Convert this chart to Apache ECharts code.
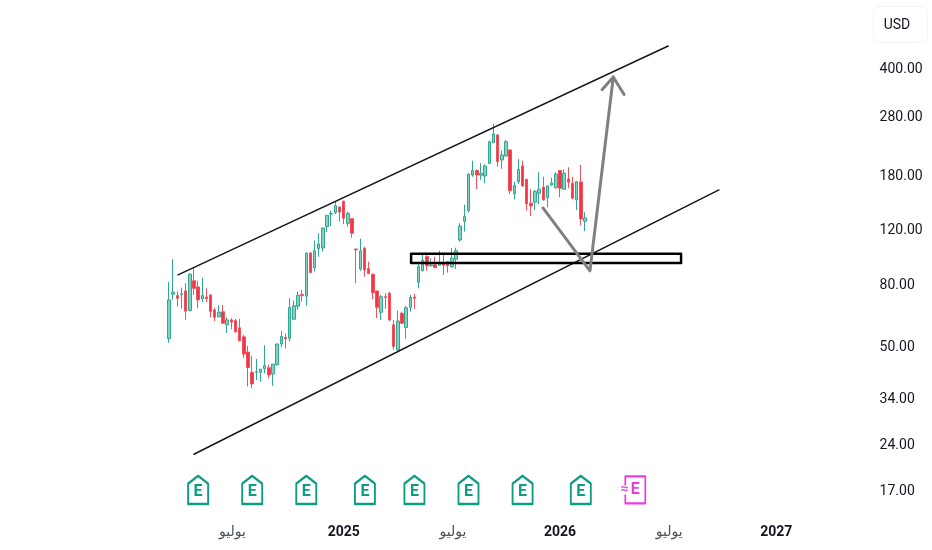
<!DOCTYPE html>
<html><head><meta charset="utf-8">
<style>html,body{margin:0;padding:0;background:#fff}#c{width:932px;height:550px}</style>
<script src="https://cdn.jsdelivr.net/npm/echarts@6/dist/echarts.min.js"></script>
</head><body><div id="c"></div>
<script>
// Weekly candles: [open, close, low, high]
const ohlc = [
[52.8,70.5,51.2,80.6],[73.6,74.7,70.5,95.6],[72.8,71.4,67.1,75],[73.4,73.8,66.2,77.3],[75.4,64.8,60.7,79.9],
[65.1,85.5,64.8,86.1],[81.4,76.9,73.2,89.4],[77.7,70.5,66.2,81.4],[71.1,72.8,69.3,83.3],[72.1,71.1,69.3,76.9],
[73.2,64.6,61.9,73.2],[65.4,61.9,60.2,66.5],[62.1,64.3,61.9,67.8],[64.5,59.2,58.9,67.9],[58.5,60.7,55,61.9],
[60.7,59.7,56.6,61.5],[60.4,55.6,55,61.1],[57.2,51.9,51.9,61.1],[53.5,47,45.6,54.3],[47.7,42.5,36.9,49.9],
[41,37.6,36.4,46.4],[41,41.2,38.7,45.3],[41,42,38.2,42],[42.1,43.1,40.7,50.2],[42.4,40.2,39.2,43.4],
[40.5,43.6,37.1,43.6],[43.4,50.7,43.1,50.7],[50.7,53.6,49.5,55.9],[53.3,52.7,49.1,54.8],[52.9,66.7,51.6,71.4],
[61,67.5,61,70.2],[67.2,73,65.4,75],[73.4,72.8,69.6,76],[72.5,100,67.5,100.7],[100.2,86.5,86.1,100.7],
[89.8,101.9,87.1,110],[103.5,107.2,97.4,116.1],[104,120.8,101.2,121],[122,132.8,117,132.8],[134,134.5,122.6,137.5],
[135.7,142.8,134,147.8],[141.4,136,126.7,141.4],[147.8,129.9,124.2,147.8],[125.1,134.8,122,136.4],[129.5,116.1,112.3,129.5],
[103.2,102.5,79.9,103.2],[88.9,101.7,87.6,111.5],[103.8,88.2,83.9,105],[89.1,85.8,85.6,93.9],[85.5,74.4,70.9,85.5],
[75.4,66.7,61.5,75.4],[64.3,72.2,60.7,73.2],[72.2,71.8,65.9,74.1],[74.1,60.7,60,75],[58.5,49.7,48.5,60.7],
[48.5,60.2,48.1,65.1],[63.8,59.2,58.8,64.6],[57.3,66.5,52.7,67.4],[66.7,71.8,64.6,73.2],[72,71.4,65.9,73.8],
[80.5,90.4,76.9,93.9],[87.8,95,87.1,98.7],[97.5,91,87.8,100.4],[91,91.6,90.5,96.3],[91.6,89.8,89.4,97.5],
[91.4,93.2,91.4,101.9],[93.2,91.4,85,100],[93.9,91,86.5,93.9],[90.3,96.3,89.8,103.8],[95.6,101.9,88.8,104.2],
[110.4,122.6,109,125.1],[127,131.5,117.6,143.8],[137.5,180.6,135.7,181.9],[179.6,185.6,177.3,199.9],[185.6,179.6,161.8,187.5],
[179.3,182,173,196.1],[178.3,192.1,168.8,194.6],[196.1,230.4,194.6,232.2],[228.9,244.1,227.7,263.1],[242.3,198.5,191.2,244.1],
[201,208.7,187.9,215.6],[207.1,230.4,206,233.4],[216.6,159.7,155.8,217.8],[155.8,165.8,149.7,170.8],[170.8,187.5,167.9,202.5],
[192.1,165.4,164.6,199.9],[173.9,144.6,137.5,173.9],[145.4,142.4,132.1,161.4],[146.5,158.6,138.2,160.6],[156.7,161.4,144.3,183.3],
[164.2,149,148.2,177.3],[151.5,165.4,141.1,166.6],[166.6,169.2,165.8,176],[163.4,180.6,161.8,183.3],[185.6,162.6,152,186.5],
[161.4,182,161.4,187.5],[174.3,170.1,162.6,190.2],[168.8,150.9,149.7,177.3],[149,170.8,138.2,171.6],[170.4,129.2,123.4,193.6],
[127,130.2,118.1,135.9]
];
const LEAD_WEEKS = 40, TOTAL_WEEKS = 207;
const firstWeek = Date.UTC(2023, 5, 5);
const weeks = [];
for (let i = 0; i < TOTAL_WEEKS; i++) weeks.push(new Date(firstWeek + i * 7 * 864e5).toISOString().slice(0, 10));

const MONTH = 'يوليو';
const xTickLabels = {'2024-06-24':MONTH,'2024-12-30':'2025','2025-06-30':MONTH,'2025-12-29':'2026','2026-06-29':MONTH,'2026-12-28':'2027'};
const priceTicks = [400,280,180,120,80,50,34,24,17];

// Drawings, as [week number, price]
const upperTrend = [[42.17,85],[160,471.6]];
const lowerTrend = [[46,22.2],[172.2,160.6]];
const zoneBox = [[98.2,99.6],[163.1,99.6],[163.1,93],[98.2,93],[98.2,99.6]];
const arrowPath = [[129.9,140.3],[141.2,87.6],[146.8,374]];
const arrowHead = [[144.1,340],[146.8,374],[149.4,328]];
const earnings = [47,60,73,87.1,99,112,125,139];
const nextEarnings = [152.1];
const EARN_PRICE = 17;

const GREEN='#0f9d82', PINK='#e83de0', RED='#f23645', FONT="Roboto, 'Noto Sans', 'DejaVu Sans', sans-serif";
const drawn = (data, color, width) => ({type:'line', xAxisIndex:1, yAxisIndex:0, data, showSymbol:false, symbol:'none', silent:true, z:5, animation:false,
  lineStyle:{color, width, cap:'round', join:'round'}});

const chart = echarts.init(document.getElementById('c'), null, {renderer:'canvas'});
chart.setOption({
  animation:false,
  backgroundColor:'#fff',
  grid:{left:0.5, width:861.12, top:0, height:510, containLabel:false},
  xAxis:[
    {type:'category', data:weeks, boundaryGap:true, axisLine:{show:false}, axisTick:{show:false}, splitLine:{show:false},
     axisLabel:{margin:15, hideOverlap:false, interval:(i,v)=>v in xTickLabels,
       formatter:v=>{const t=xTickLabels[v]; return t===MONTH?`{m|${t}}`:`{y|${t}}`;},
       rich:{m:{fontFamily:FONT,fontSize:14,color:'#4c525e',padding:[0,0,0,2]},y:{fontFamily:FONT,fontSize:14,fontWeight:'bold',color:'#131722'}}}},
    {type:'value', min:-0.5, max:TOTAL_WEEKS-0.5, show:false}
  ],
  yAxis:{type:'log', logBase:10, min:14.63, max:665.4, position:'right', axisLine:{show:false}, axisTick:{show:false}, splitLine:{show:false}, minorTick:{show:false},
    axisLabel:{customValues:priceTicks, margin:18, fontFamily:FONT, fontSize:14, color:'#131722', verticalAlign:'top', lineHeight:4, formatter:v=>Number(v).toFixed(2)}},
  graphic:[
    {type:'rect', shape:{x:873.5,y:6.5,width:54,height:36,r:6}, style:{fill:'#fff',stroke:'#f0f3fa',lineWidth:1}},
    {type:'text', x:897, y:25, style:{text:'USD',fontFamily:FONT,fontSize:14,fill:'#131722',align:'center',verticalAlign:'middle'}}
  ],
  series:[
    {type:'candlestick', xAxisIndex:0, yAxisIndex:0, barWidth:3, z:2,
     encode:{x:0,y:[1,2,3,4]},
     data:ohlc.map((r,i)=>[i+LEAD_WEEKS].concat(r)),
     itemStyle:{color:'#86d0bd',color0:RED,borderColor:'#2ea890',borderColor0:'#f4505d',borderWidth:1}},
    drawn(upperTrend,'#131722',1.5),
    drawn(lowerTrend,'#131722',1.5),
    drawn(zoneBox,'#000',2.5),
    drawn(arrowPath,'#808080',3),
    drawn(arrowHead,'#808080',3),
    {type:'scatter', xAxisIndex:1, yAxisIndex:0, z:6, symbol:'path://M10.5 0L21 8V29H0V8Z', symbolSize:[20,28],
     data:earnings.map(x=>[x,EARN_PRICE]),
     itemStyle:{color:'#fff',borderColor:GREEN,borderWidth:2.2,borderJoin:'round',opacity:1},
     label:{show:true,position:'inside',formatter:'E',offset:[0,2.5],fontFamily:FONT,fontSize:16,fontWeight:'bold',color:GREEN}},
    {type:'scatter', xAxisIndex:1, yAxisIndex:0, z:6, symbol:'path://M0 9V0H20V27H0V18', symbolSize:[20,27],
     data:nextEarnings.map(x=>[x,EARN_PRICE]),
     itemStyle:{color:'#fff',borderColor:PINK,borderWidth:2,borderJoin:'round',opacity:1},
     label:{show:true,position:'inside',formatter:'{a|≈}{e|E}',offset:[-5,0],
       rich:{a:{fontFamily:FONT,fontSize:14,fontWeight:'bold',color:PINK},e:{fontFamily:FONT,fontSize:16,fontWeight:'bold',color:PINK,padding:[0,0,0,2]}}}}
  ]
});
</script></body></html>
